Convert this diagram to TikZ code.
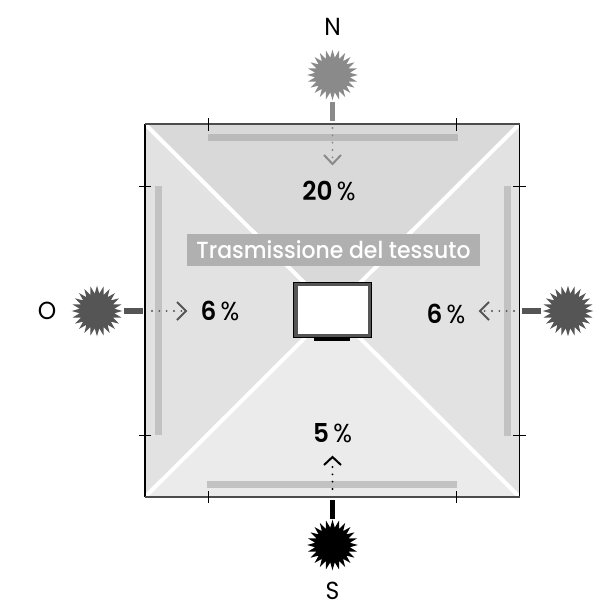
\documentclass[tikz,border=0pt]{standalone}
\usepackage{fontspec}
\setmainfont{Poppins}
\newfontfamily\pctfont[FakeStretch=0.95]{Poppins SemiBold}
\newfontfamily\pctlight[FakeStretch=0.95]{Poppins}
\newfontfamily\banfont[FakeStretch=0.94]{Poppins Medium}
\newfontfamily\compfont[FakeStretch=0.95]{Poppins}
\usetikzlibrary{shapes.geometric,arrows.meta}
\definecolor{cN}{HTML}{8A8A8A}
\definecolor{cO}{HTML}{555555}
\newcommand{\pc}[1]{#1\,{\pctlight\%}}
\tikzset{
 x=0.75pt,y=-0.75pt,
 sun/.style={star,star points=24,star point ratio=1.45,minimum size=38pt,inner sep=0pt,fill=#1,draw=none},
 sunbar/.style={draw=#1,line width=3.9pt},
 ray/.style={draw=#1,line width=1.6pt,dash pattern=on 0pt off 5.5pt,line cap=round},
 chev/.style={draw=#1,line width=1.5pt,line cap=butt},
 tick/.style={draw=black,line width=0.6pt},
 curtain/.style={fill=#1,draw=none},
 seam/.style={draw=white,line width=3pt},
 pct/.style={font=\fontsize{19.5}{20}\pctfont,text=black,inner sep=0pt},
 compass/.style={font=\fontsize{18.5}{20}\compfont,text=black,inner sep=0pt},
}
\begin{document}
\begin{tikzpicture}
\useasboundingbox (0,0) rectangle (598,603);
% room coordinates
\coordinate (nw) at (145,124);
\coordinate (ne) at (519.5,124);
\coordinate (se) at (519.5,497);
\coordinate (sw) at (145,497);
\coordinate (c) at (332,311);
% sectors
\fill[black!15] (nw) -- (ne) -- (c) -- cycle;
\fill[black!11.5] (ne) -- (se) -- (c) -- cycle;
\fill[black!11.5] (nw) -- (sw) -- (c) -- cycle;
\fill[black!8] (sw) -- (se) -- (c) -- cycle;
\draw[seam] (nw) -- (se);
\draw[seam] (ne) -- (sw);
% walls
\draw[black,line width=0.8pt] (nw) -- (sw);
\draw[black,line width=0.8pt] (ne) -- (se);
\draw[black!70,line width=1.1pt] (nw) -- (ne);
\draw[black!70,line width=1.1pt] (sw) -- (se);
% curtains
\fill[curtain=black!27] (208,134) rectangle (458,141);
\fill[curtain=black!24] (207,481) rectangle (457,488);
\fill[curtain=black!24] (155,186) rectangle (162,435);
\fill[curtain=black!24] (504,186) rectangle (511,436);
% ticks
\draw[tick] (208,118) -- (208,131);
\draw[tick] (456.5,118) -- (456.5,131);
\draw[tick] (208,491) -- (208,503);
\draw[tick] (456.5,491) -- (456.5,503);
\draw[tick] (139,186.5) -- (151,186.5);
\draw[tick] (139,435) -- (151,435);
\draw[tick] (513,186.5) -- (526,186.5);
\draw[tick] (513,435) -- (526,435);
% banner
\node[fill=black!31,minimum width=219.75pt,minimum height=24pt,inner sep=0pt,text=white,font=\fontsize{17.5}{18}\banfont] (banner) at (333.5,249.5) {Trasmissione del tessuto};
% screen
\fill[cO] (293.5,282) rectangle (371,337);
\fill[white] (297.5,285.5) rectangle (367.5,333.5);
\node[fill=black,minimum width=27pt,minimum height=3.2pt,inner sep=0pt] (stand) at (332,339) {};
\draw[black,line width=0.5pt] (293.5,282) rectangle (371,337);
% suns
\node[sun=cN] (sunN) at (332.5,75) {};
\node[sun=black] (sunS) at (332.5,545) {};
\node[sun=cO] (sunO) at (97,311) {};
\node[sun=cO] (sunE) at (568,311) {};
% sun bars
\coordinate (nb) at (332.5,121);
\coordinate (sb) at (332.5,500);
\coordinate (ob) at (143,311);
\coordinate (eb) at (522,311);
\draw[sunbar=cN] (332.5,102) -- (nb);
\draw[sunbar=black] (sb) -- (332.5,519);
\draw[sunbar=cO] (124,311) -- (ob);
\draw[sunbar=cO] (eb) -- (541,311);
% rays
\draw[ray=cN] (332.5,128) -- (332.5,160);
\draw[chev=cN] (324,155) -- (332.5,164) -- (341,155);
\draw[ray=black] (332.5,489) -- (332.5,462);
\draw[chev=black] (324,465) -- (332.5,457) -- (341,465);
\draw[ray=cO] (152,311) -- (182,311);
\draw[chev=cO] (177,302) -- (186,311) -- (177,320);
\draw[ray=cO] (514,311) -- (484,311);
\draw[chev=cO] (489,302) -- (480,311) -- (489,320);
% labels
\node[pct] (pN) at (329,191) {\pc{20}};
\node[pct] (pO) at (220,311) {\pc{6}};
\node[pct] (pE) at (446,314) {\pc{6}};
\node[pct] (pS) at (332.5,433) {\pc{5}};
\node[compass] (lN) at (332.5,27) {N};
\node[compass] (lS) at (332.5,590.5) {S};
\node[compass] (lO) at (47,311) {O};
\end{tikzpicture}
\end{document}
